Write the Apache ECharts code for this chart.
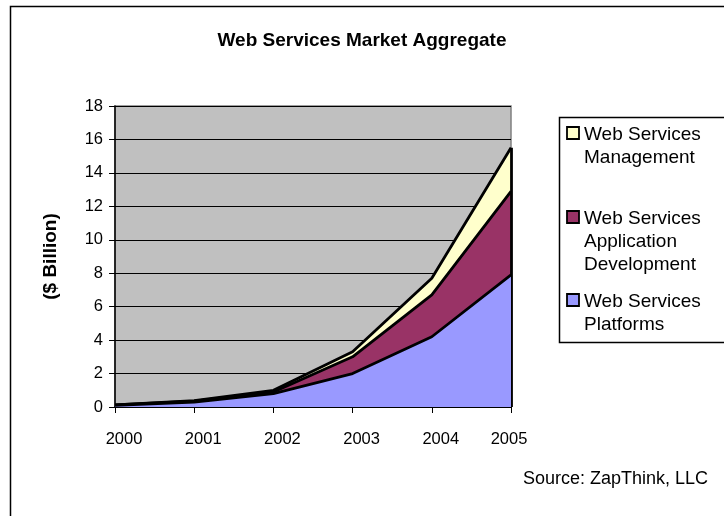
<!DOCTYPE html>
<html>
<head>
<meta charset="utf-8">
<style>
  html, body { margin: 0; padding: 0; background: #ffffff; }
  #chart { width: 724px; height: 516px; }
</style>
<script src="https://cdn.jsdelivr.net/npm/echarts@6/dist/echarts.min.js"></script>
</head>
<body>
<div id="chart"></div>
<script>
// Years on the category axis
const years = ['2000', '2001', '2002', '2003', '2004', '2005'];
// Market size by segment, $ billion (stacked)
const platforms = [0.10, 0.30, 0.80, 2.0, 4.2, 7.9];
const appDevelopment = [0.02, 0.05, 0.10, 1.0, 2.5, 5.0];
const management = [0.01, 0.03, 0.10, 0.3, 1.0, 2.6];
// Value axis ticks
const yTicks = [0, 2, 4, 6, 8, 10, 12, 14, 16, 18];

const FONT = '"Liberation Sans", Arial, sans-serif';
const lastIdx = years.length - 1;
const totalLast = platforms[lastIdx] + appDevelopment[lastIdx] + management[lastIdx];

const chart = echarts.init(document.getElementById('chart'), null, { renderer: 'canvas' });

// one legend row: swatch beside the first text line
function legendEntry(lineCenterY, color, lines) {
  return {
    type: 'group',
    children: [
      { type: 'rect', shape: { x: 567, y: lineCenterY - 6, width: 12, height: 12 },
        style: { fill: color, stroke: '#000', lineWidth: 1.8 } },
      { type: 'text', x: 584, y: lineCenterY - 10,
        style: { text: lines.join('\n'), font: '19px ' + FONT, lineHeight: 23, fill: '#000' } }
    ]
  };
}

// year labels sit a little right of their ticks, the last one nudged left
const yearRich = {
  mid: { fontFamily: FONT, fontSize: 16.5, color: '#000', padding: [0, 0, 0, 18] },
  end: { fontFamily: FONT, fontSize: 16.5, color: '#000', padding: [0, 4, 0, 0] }
};

const option = {
  animation: false,
  backgroundColor: '#ffffff',
  title: {
    text: 'Web Services Market Aggregate',
    left: 357, top: 26, textAlign: 'center',
    textStyle: { fontFamily: FONT, fontSize: 19, fontWeight: 'bold', color: '#000' }
  },
  grid: {
    left: 115, right: 213, top: 106, bottom: 109,
    show: true, backgroundColor: '#c0c0c0', borderColor: '#808080', borderWidth: 1.5
  },
  xAxis: {
    type: 'category',
    data: years,
    boundaryGap: false,
    axisLine: { lineStyle: { color: '#000', width: 1.5 } },
    axisTick: { show: true, interval: 0, length: 6, lineStyle: { color: '#000' } },
    axisLabel: {
      interval: 0, hideOverlap: false,
      fontFamily: FONT, fontSize: 16.5, color: '#000', margin: 24,
      formatter: (v, i) => (i === lastIdx ? '{end|' : '{mid|') + v + '}',
      rich: yearRich
    },
    splitLine: { show: false }
  },
  yAxis: {
    type: 'value',
    min: yTicks[0], max: yTicks[yTicks.length - 1], interval: yTicks[1] - yTicks[0],
    name: '($ Billion)',
    nameLocation: 'middle',
    nameGap: 55,
    nameTextStyle: { fontFamily: FONT, fontSize: 19, fontWeight: 'bold', color: '#000' },
    axisLine: { show: true, lineStyle: { color: '#000', width: 1.5 } },
    axisTick: { show: true, length: 6, lineStyle: { color: '#000' } },
    axisLabel: { fontFamily: FONT, fontSize: 16.5, color: '#000', margin: 12 },
    splitLine: { show: true, lineStyle: { color: '#000', width: 1 } }
  },
  series: [
    {
      name: 'Web Services Platforms', type: 'line', stack: 'total', data: platforms,
      symbol: 'none', z: 5,
      lineStyle: { color: '#000', width: 2.8 },
      areaStyle: { color: '#9999ff', opacity: 1 }
    },
    {
      name: 'Web Services Application Development', type: 'line', stack: 'total', data: appDevelopment,
      symbol: 'none', z: 4,
      lineStyle: { color: '#000', width: 2.8 },
      areaStyle: { color: '#993366', opacity: 1 }
    },
    {
      name: 'Web Services Management', type: 'line', stack: 'total', data: management,
      symbol: 'none', z: 3,
      lineStyle: { color: '#000', width: 2.8 },
      areaStyle: { color: '#ffffcc', opacity: 1 },
      markLine: {
        silent: true, symbol: 'none', label: { show: false },
        lineStyle: { color: '#000', width: 2.8, type: 'solid' },
        data: [[{ coord: [years[lastIdx], 0] }, { coord: [years[lastIdx], totalLast] }]]
      }
    }
  ],
  graphic: [
    // outer chart frame
    { type: 'rect', shape: { x: 10.5, y: 6.5, width: 800, height: 600 },
      style: { fill: 'none', stroke: '#000', lineWidth: 1.5 }, silent: true },
    // legend frame
    { type: 'rect', shape: { x: 559.5, y: 117.5, width: 300, height: 225 },
      style: { fill: '#fff', stroke: '#000', lineWidth: 1.5 }, silent: true },
    legendEntry(133, '#ffffcc', ['Web Services', 'Management']),
    legendEntry(217, '#993366', ['Web Services', 'Application', 'Development']),
    legendEntry(300, '#9999ff', ['Web Services', 'Platforms']),
    { type: 'text', right: 16, top: 470,
      style: { text: 'Source: ZapThink, LLC', font: '18px ' + FONT, fill: '#000' } }
  ]
};

chart.setOption(option);
</script>
</body>
</html>
